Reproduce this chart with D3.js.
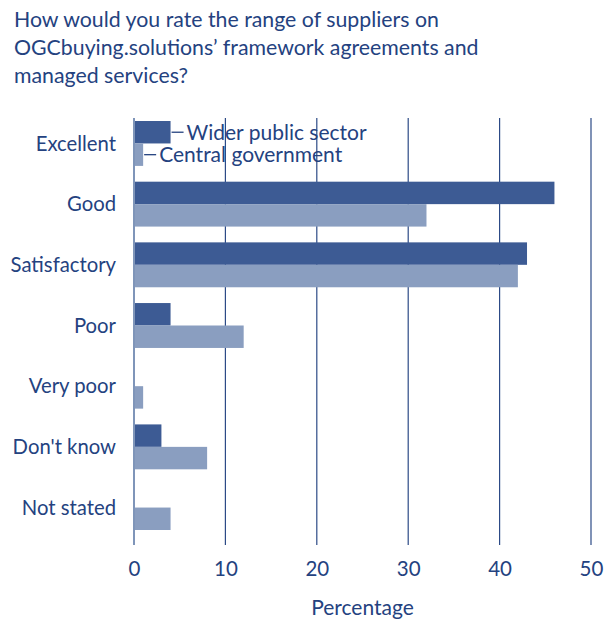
<!DOCTYPE html>
<html>
<head>
<meta charset="utf-8">
<script src="https://cdn.jsdelivr.net/npm/d3@7"></script>
<style>
  body { margin: 0; background: #fff; }
  svg { font-family: Lato, "Open Sans", sans-serif; }
</style>
</head>
<body>
<svg width="609" height="619"></svg>
<script>
var categories = ['Excellent', 'Good', 'Satisfactory', 'Poor', 'Very poor', "Don't know", 'Not stated'];
var wider = [4, 46, 43, 4, 0, 3, 0];
var central = [1, 32, 42, 12, 1, 8, 4];
var seriesNames = ['Wider public sector', 'Central government'];
var ticks = [0, 10, 20, 30, 40, 50];
var title = ['How would you rate the range of suppliers on',
  'OGCbuying.solutions\u2019 framework agreements and',
  'managed services?'];

var width = 609, height = 619;
var margin = {top: 121, bottom: 74, left: 134, right: 18};
var textColor = '#24427f';
var colors = ['#3d5b94', '#8a9ec0'];

var svg = d3.select('svg');

// title
svg.append('g').selectAll('text')
  .data(title).enter().append('text')
  .attr('x', 14)
  .attr('y', (d, i) => 27 + i * 28)
  .attr('fill', textColor)
  .style('font-size', '21.3px')
  .text(d => d);

var xScale = d3.scaleLinear()
  .domain([0, 50])
  .range([margin.left, width - margin.right]);

var gridTop = margin.top - 3, gridBottom = height - margin.bottom;

var yScale = d3.scaleBand()
  .domain(categories)
  .range([margin.top, 530])
  .paddingInner(0.26)
  .paddingOuter(0)
  .align(0);

var sub = d3.scaleBand()
  .domain([0, 1])
  .range([0, yScale.bandwidth()]);

// gridlines
svg.append('g').selectAll('line')
  .data(ticks.slice(1)).enter().append('line')
  .attr('x1', d => xScale(d)).attr('x2', d => xScale(d))
  .attr('y1', gridTop).attr('y2', gridBottom)
  .attr('stroke', '#2c4a86')
  .attr('stroke-width', 1.2);

// bars
var rows = categories.map((c, i) => ({cat: c, vals: [wider[i], central[i]]}));
var groups = svg.append('g').selectAll('g')
  .data(rows).enter().append('g')
  .attr('transform', d => 'translate(0,' + yScale(d.cat) + ')');

groups.selectAll('rect')
  .data(d => d.vals.map((v, j) => ({v: v, j: j})))
  .enter().append('rect')
  .attr('x', xScale(0))
  .attr('y', d => sub(d.j))
  .attr('width', d => xScale(d.v) - xScale(0))
  .attr('height', sub.bandwidth())
  .attr('fill', d => colors[d.j]);

// zero axis line
svg.append('line')
  .attr('x1', xScale(0)).attr('x2', xScale(0))
  .attr('y1', gridTop).attr('y2', gridBottom)
  .attr('stroke', '#7f95b9')
  .attr('stroke-width', 2);

// category labels
svg.append('g').selectAll('text')
  .data(categories).enter().append('text')
  .attr('x', 116)
  .attr('y', d => yScale(d) + yScale.bandwidth() / 2)
  .attr('dy', '0.35em')
  .attr('text-anchor', 'end')
  .attr('fill', textColor)
  .style('font-size', '20.3px')
  .text(d => d);

// legend annotations on the Excellent bars
var firstRow = categories[0];
seriesNames.forEach((name, j) => {
  var vals = j === 0 ? wider : central;
  var y = yScale(firstRow) + sub(j) + sub.bandwidth() / 2;
  var x0 = xScale(vals[0]);
  svg.append('line')
    .attr('x1', x0 + 1).attr('x2', x0 + 13)
    .attr('y1', y).attr('y2', y)
    .attr('stroke', textColor).attr('stroke-width', 1.3);
  svg.append('text')
    .attr('x', x0 + 16)
    .attr('y', y)
    .attr('dy', '0.35em')
    .attr('fill', textColor)
    .style('font-size', '21px')
    .text(name);
});

// x axis
var xAxis = d3.axisBottom(xScale)
  .tickValues(ticks)
  .tickSize(0)
  .tickPadding(16);

var ax = svg.append('g')
  .attr('transform', 'translate(0,' + gridBottom + ')')
  .call(xAxis);
ax.select('.domain').remove();
ax.selectAll('text')
  .attr('fill', textColor)
  .style('font-size', '20.5px')
  .style('font-family', 'Lato, sans-serif');

svg.append('text')
  .attr('x', (xScale(0) + xScale(50)) / 2)
  .attr('y', 615)
  .attr('text-anchor', 'middle')
  .attr('fill', textColor)
  .style('font-size', '21px')
  .text('Percentage');
</script>
</body>
</html>
